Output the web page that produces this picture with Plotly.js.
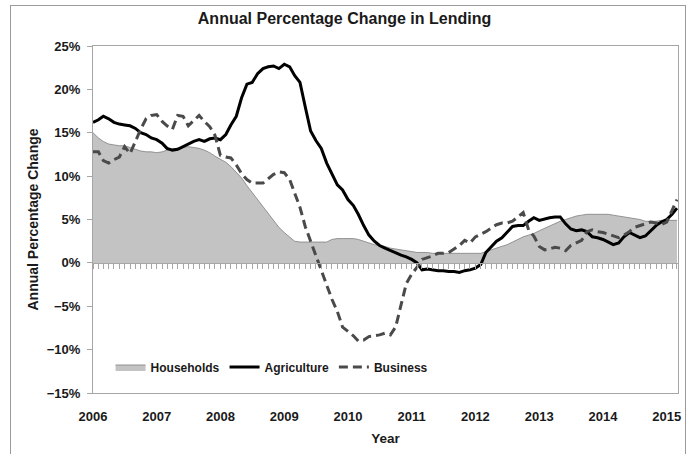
<!DOCTYPE html>
<html>
<head>
<meta charset="utf-8">
<script src="https://cdn.plot.ly/plotly-3.0.1.min.js"></script>
<style>
  html, body { margin: 0; padding: 0; background: #fff; }
  #wrap { position: relative; width: 689px; height: 454px; overflow: hidden; }
  #chart { width: 689px; height: 454px; }
  #frame { position: absolute; left: 10px; top: 5px; width: 674px; height: 470px; border: 1px solid #9a9a9a; pointer-events: none; }
</style>
</head>
<body>
<div id="wrap"><div id="chart"></div><div id="frame"></div></div>
<script>
// Monthly series, Jan 2006 .. Mar 2015
const startYear = 2006;
const yearTicks = ['2006','2007','2008','2009','2010','2011','2012','2013','2014','2015'];

const households = [15.0,14.4,14.0,13.7,13.6,13.5,13.5,13.3,13.1,12.9,
 12.8,12.8,12.7,12.8,13.0,13.1,13.2,13.3,13.4,13.3,
 13.2,13.0,12.7,12.3,11.9,11.6,11.1,10.5,9.8,8.9,
 8.1,7.3,6.5,5.6,4.8,4.1,3.5,3.0,2.5,2.4,
 2.4,2.4,2.4,2.4,2.4,2.7,2.8,2.8,2.8,2.8,
 2.7,2.5,2.3,2.1,2.0,1.9,1.7,1.6,1.5,1.4,
 1.3,1.2,1.2,1.2,1.1,1.1,1.1,1.1,1.1,1.1,
 1.1,1.1,1.1,1.1,1.3,1.5,1.7,1.9,2.1,2.4,
 2.7,3.0,3.2,3.4,3.7,4.0,4.2,4.5,4.8,5.0,
 5.2,5.4,5.5,5.6,5.6,5.6,5.6,5.6,5.5,5.4,
 5.3,5.2,5.1,5.0,4.8,4.8,4.8,4.9,4.9,4.9,4.9];

const agriculture = [16.2,16.5,16.9,16.6,16.2,16.0,15.9,15.8,15.5,15.0,
 14.8,14.4,14.2,13.8,13.2,13.0,13.1,13.4,13.7,14.0,
 14.2,14.0,14.3,14.4,14.2,14.8,15.9,16.9,19.0,20.6,
 20.8,21.8,22.4,22.6,22.7,22.4,22.9,22.6,21.6,20.8,
 18.0,15.2,14.1,13.2,11.5,10.3,9.0,8.4,7.3,6.6,
 5.6,4.3,3.2,2.5,2.0,1.7,1.4,1.2,0.9,0.7,
 0.4,0.0,-0.8,-0.7,-0.8,-0.9,-0.9,-1.0,-1.0,-1.1,
 -0.9,-0.8,-0.6,-0.2,1.2,1.9,2.5,2.9,3.6,4.2,
 4.3,4.3,4.8,5.2,4.9,5.1,5.2,5.3,5.3,4.5,
 3.9,3.7,3.8,3.6,3.0,2.9,2.7,2.4,2.1,2.3,
 3.0,3.5,3.2,2.9,3.1,3.7,4.3,4.7,5.0,5.6,6.3];

const business = [12.8,12.8,11.8,11.5,11.9,12.2,13.4,12.6,14.0,15.4,
 16.6,17.0,17.1,16.3,15.8,15.4,17.0,16.9,15.8,16.4,
 17.0,16.3,15.7,14.7,12.4,12.2,12.1,11.3,10.3,9.6,
 9.2,9.2,9.2,9.7,10.2,10.5,10.4,9.6,8.0,6.4,
 4.2,2.5,0.8,-1.0,-2.6,-4.2,-5.6,-7.4,-7.9,-8.4,
 -9.0,-8.9,-8.5,-8.4,-8.3,-8.1,-8.3,-7.4,-5.0,-2.4,
 -1.3,-0.5,0.4,0.6,0.8,1.1,1.1,1.2,1.6,2.0,
 2.6,2.3,3.0,3.3,3.6,4.0,4.4,4.6,4.6,4.8,
 5.3,5.8,3.8,3.1,1.9,1.5,1.6,1.8,1.7,1.4,
 2.0,2.3,2.6,3.6,3.8,3.6,3.5,3.3,3.1,2.9,
 3.2,3.6,4.1,4.3,4.5,4.7,4.6,4.4,4.7,6.0,7.3];

const months = [];
for (let i = 0; i < households.length; i++) {
  const y = startYear + Math.floor(i / 12);
  const m = (i % 12) + 1;
  months.push(y + '-' + String(m).padStart(2, '0') + '-01');
}
const tickVals = yearTicks.map(y => y + '-01-01');

const FONT = 'Liberation Sans, Arial, sans-serif';
const TXT = '#1a1a1a';
const xRange = ['2006-01-01', '2015-03-07'];
const yMin = -15, yMax = 25;

const traces = [
  { x: months, y: households, name: 'Households', type: 'scatter', mode: 'lines',
    fill: 'tozeroy', fillcolor: '#c3c3c3',
    line: { color: '#7f7f7f', width: 0.8 } },
  { x: months, y: agriculture, name: 'Agriculture', type: 'scatter', mode: 'lines',
    line: { color: '#000000', width: 3 } },
  { x: months, y: business, name: 'Business', type: 'scatter', mode: 'lines',
    line: { color: '#4a4a4a', width: 3, dash: '9px,5px' } },
  // carrier for the zero-line month ticks (draws nothing)
  { x: months, y: households, xaxis: 'x2', type: 'scatter', mode: 'lines',
    opacity: 0, showlegend: false, hoverinfo: 'skip', line: { width: 0 } }
];

const layout = {
  width: 689, height: 454,
  margin: { l: 93, r: 11, t: 46, b: 61 },
  paper_bgcolor: '#ffffff', plot_bgcolor: '#ffffff',
  font: { family: FONT, color: TXT, size: 12, weight: 'bold' },
  showlegend: true,
  title: { text: 'Annual Percentage Change in Lending', xref: 'container', x: 0.5,
           yref: 'container', y: 1 - 18 / 454, yanchor: 'middle',
           font: { family: FONT, size: 16, color: TXT, weight: 'bold' } },
  xaxis: {
    type: 'date', range: xRange, tickmode: 'array', tickvals: tickVals, ticktext: yearTicks,
    showgrid: false, zeroline: false, showline: true, mirror: true,
    linecolor: '#a6a6a6', linewidth: 1, ticks: '', ticklabelstandoff: 11,
    tickfont: { family: FONT, size: 13, color: TXT, weight: 'bold' },
    title: { text: 'Year', standoff: 10, font: { family: FONT, size: 13.5, color: TXT, weight: 'bold' } }
  },
  xaxis2: {
    type: 'date', range: xRange, overlaying: 'x', anchor: 'free',
    position: (0 - yMin) / (yMax - yMin), side: 'bottom',
    showgrid: false, zeroline: false, showline: true, linecolor: '#a6a6a6', linewidth: 1,
    ticks: 'outside', ticklen: 5, tickcolor: '#a6a6a6', tickwidth: 1,
    dtick: 'M1', tick0: '2006-01-01', showticklabels: false
  },
  yaxis: {
    range: [yMin, yMax], dtick: 5, tick0: 0, ticksuffix: '%',
    showgrid: false, zeroline: false, showline: true, mirror: true,
    linecolor: '#a6a6a6', linewidth: 1, ticks: 'outside', ticklen: 5, tickcolor: '#a6a6a6',
    ticklabelstandoff: 4,
    tickfont: { family: FONT, size: 13, color: TXT, weight: 'bold' },
    title: { text: 'Annual Percentage Change', standoff: 4,
             font: { family: FONT, size: 14, color: TXT, weight: 'bold' } }
  },
  legend: {
    orientation: 'h', x: 0.03, y: 0.075, xanchor: 'left', yanchor: 'middle',
    bgcolor: 'rgba(0,0,0,0)', borderwidth: 0, itemwidth: 30, tracegroupgap: 0,
    font: { family: FONT, size: 12, color: TXT, weight: 'bold' }
  }
};

Plotly.newPlot('chart', traces, layout, { displayModeBar: false, staticPlot: true });
</script>
</body>
</html>
